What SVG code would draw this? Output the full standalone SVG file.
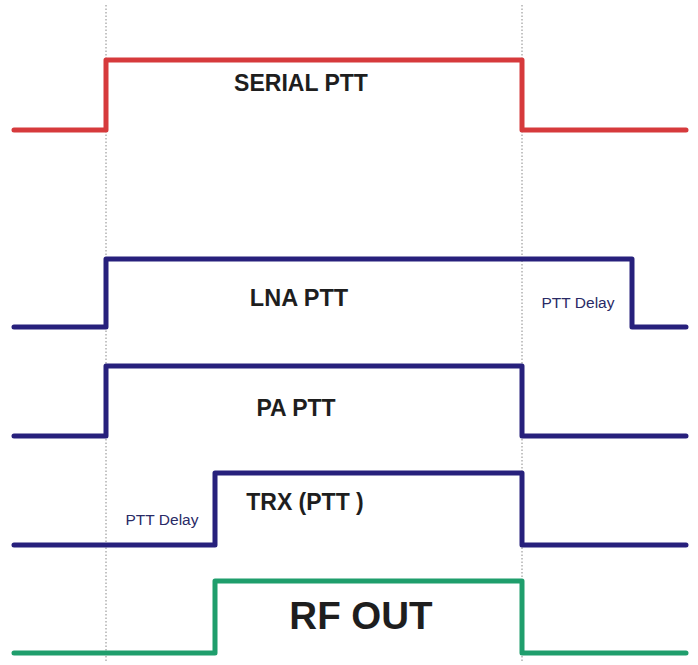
<svg xmlns="http://www.w3.org/2000/svg" width="698" height="665" viewBox="0 0 698 665">
<style>
.sig{fill:none;stroke-width:5;stroke-linejoin:round;stroke-linecap:round}
.red{stroke:#d63a3c}
.blue{stroke:#27207c}
.green{stroke:#1f9e6c}
.guide{stroke:#888;stroke-width:1;stroke-dasharray:1.5 2}
.lbl{font-family:"Liberation Sans",Arial,sans-serif;font-weight:bold;fill:#1e1e1e;text-anchor:middle}
.dly{font-family:"Liberation Sans",Arial,sans-serif;font-size:15.5px;fill:#2a2a66;text-anchor:middle}
</style>
<rect width="698" height="665" fill="#ffffff"/>
<g id="guides">
<line class="guide" x1="106" y1="5" x2="106" y2="662"/>
<line class="guide" x1="522" y1="5" x2="522" y2="662"/>
</g>
<g id="connectors">
<polyline id="serial" class="sig red" points="14,130 106,130 106,60 522,60 522,130 686,130"/>
<polyline id="lna" class="sig blue" points="14,327 106,327 106,259 632,259 632,327 686,327"/>
<polyline id="pa" class="sig blue" points="14,436 106,436 106,366 522,366 522,436 686,436"/>
<polyline id="trx" class="sig blue" points="14,545 215,545 215,473 522,473 522,545 686,545"/>
<polyline id="rf" class="sig green" points="14,653 215,653 215,581 522,581 522,653 686,653"/>
</g>
<g id="serial-label"><text class="lbl" x="301" y="91" font-size="23">SERIAL PTT</text></g>
<g id="lna-label"><text class="lbl" x="299" y="306" font-size="23.5">LNA PTT</text></g>
<g id="lna-delay"><text class="dly" x="578" y="308">PTT Delay</text></g>
<g id="pa-label"><text class="lbl" x="296" y="416" font-size="23">PA PTT</text></g>
<g id="trx-label"><text class="lbl" x="305" y="510" font-size="23">TRX (PTT )</text></g>
<g id="trx-delay"><text class="dly" x="162" y="525">PTT Delay</text></g>
<g id="rf-label"><text class="lbl" x="361" y="629" font-size="38.5">RF OUT</text></g>
</svg>
